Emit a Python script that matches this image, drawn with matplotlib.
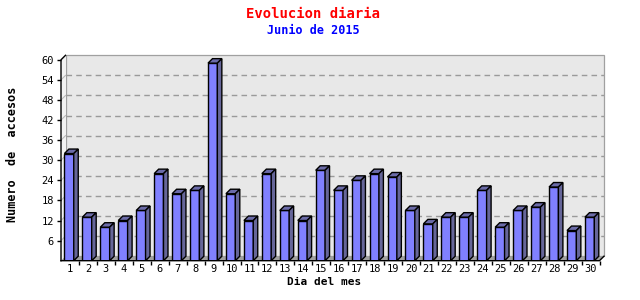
import matplotlib
matplotlib.use("Agg")
import matplotlib.pyplot as plt
from matplotlib.patches import Polygon, Rectangle

days = list(range(1, 31))
visits = [32, 13, 10, 12, 15, 26, 20, 21, 59, 20,
          12, 26, 15, 12, 27, 21, 24, 26, 25, 15,
          11, 13, 13, 21, 10, 15, 16, 22, 9, 13]
yticks = [6, 12, 18, 24, 30, 36, 42, 48, 54, 60]

title = "Evolucion diaria"
subtitle = "Junio de 2015"
xlabel = "Dia del mes"
ylabel = "Numero  de  accesos"

W, H = 640, 300
fig = plt.figure(figsize=(W / 100, H / 100), dpi=100)
fig.patch.set_facecolor("white")

# axes region in pixels (front-left-bottom origin to back-top-right)
L, R, T, B = 61, 604, 55.3, 260.7
ax = fig.add_axes([L / W, 1 - B / H, (R - L) / W, (B - T) / H])
DEPTH = 4.5
ymax = 60
ppu_x = ((R - L) - DEPTH) / 30
ppu_y = ((B - T) - DEPTH) / ymax
DX = DEPTH / ppu_x
DY = DEPTH / ppu_y
x0, x1 = 0.5, 30.5
ax.set_xlim(x0, x1 + DX)
ax.set_ylim(0, ymax + DY)
for s in ax.spines.values():
    s.set_visible(False)
ax.set_facecolor("none")

grid_c = "#9a9a9a"
# back wall
ax.add_patch(Rectangle((x0 + DX, DY), 30, ymax, facecolor="#e8e8e8",
                       edgecolor="#a0a0a0", lw=0.9, zorder=0, clip_on=False))
# left wall
ax.add_patch(Polygon([(x0, 0), (x0 + DX, DY), (x0 + DX, ymax + DY), (x0, ymax)],
                     closed=True, facecolor="#f2f2f2", edgecolor="none", zorder=0.5, clip_on=False))
# floor
ax.add_patch(Polygon([(x0, 0), (x1, 0), (x1 + DX, DY), (x0 + DX, DY)],
                     closed=True, facecolor="#a0a0a0", edgecolor="none", zorder=0.5, clip_on=False))
# back wall gridlines
for v in yticks[:-1]:
    ax.plot([x0 + DX, x1 + DX], [v + DY, v + DY], color=grid_c, lw=1,
            ls=(0, (4, 3)), zorder=1)
    ax.plot([x0, x0 + DX], [v, v + DY], color="#bbbbbb", lw=0.8, zorder=1)

# front axis lines
ax.plot([x0, x0, x0 + DX], [0, ymax, ymax + DY], color="black", lw=1, zorder=5, clip_on=False)
ax.plot([x0, x1, x1 + DX], [0, 0, DY], color="black", lw=1, zorder=5, clip_on=False)

# bars with 3D faces
front_c = "#8080ff"
side_c = "#666699"
top_c = "#6b6ba8"
bw = 0.52
off = -0.05
ax.bar([d + off for d in days], visits, width=bw, color=front_c,
       edgecolor="black", lw=1, zorder=3)
for d, v in zip(days, visits):
    xl = d + off - bw / 2
    xr = d + off + bw / 2
    ax.add_patch(Polygon([(xl, v), (xr, v), (xr + DX, v + DY), (xl + DX, v + DY)],
                         closed=True, facecolor=top_c, edgecolor="black", lw=1, zorder=3))
    ax.add_patch(Polygon([(xr, 0), (xr + DX, DY), (xr + DX, v + DY), (xr, v)],
                         closed=True, facecolor=side_c, edgecolor="black", lw=1, zorder=3))

mono = "DejaVu Sans Mono"
ax.set_yticks(yticks)
ax.set_yticklabels([str(t) for t in yticks], fontsize=7.5, family=mono)
ax.tick_params(axis="y", length=3, width=1, pad=2, color="black")
ax.set_xticks(days)
ax.set_xticklabels([str(d) for d in days], fontsize=7.5, family=mono)
ax.tick_params(axis="x", which="major", length=0, pad=2.5)
ax.set_xticks([d + 0.5 for d in days], minor=True)
ax.tick_params(axis="x", which="minor", length=3, width=1, color="black")

fig.text(313 / W, 1 - 14 / H, title, color="red", fontsize=10, fontweight="bold",
         family=mono, ha="center", va="center")
fig.text(313 / W, 1 - 31 / H, subtitle, color="blue", fontsize=8.5, fontweight="bold",
         family=mono, ha="center", va="center")
fig.text(324 / W, 1 - 282 / H, xlabel, color="black", fontsize=8, fontweight="bold",
         family=mono, ha="center", va="center")
fig.text(13 / W, 1 - 154 / H, ylabel, color="black", fontsize=8.5, fontweight="bold",
         family=mono, ha="center", va="center", rotation=90)

fig.savefig("out.png", dpi=100)
